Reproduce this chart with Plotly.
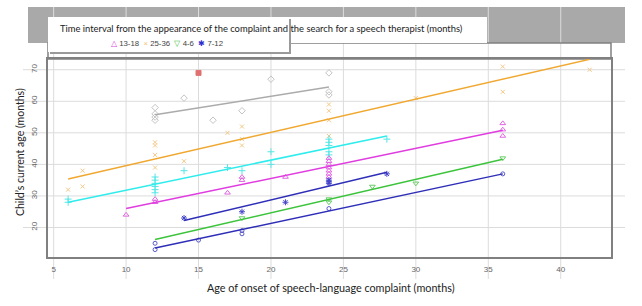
import plotly.graph_objects as go

# ---------------- data ----------------
x_ticks = [5, 10, 15, 20, 25, 30, 35, 40]
y_ticks = [20, 30, 40, 50, 60, 70]

gray_x = [12, 12, 12, 12, 14, 16, 18, 20, 24, 24, 24]
gray_y = [58, 56, 55, 54, 61, 54, 57, 67, 69, 63, 62]
gray_fit_x = [12, 24]
gray_fit_y = [55.7, 64.5]

g2536_x = [6, 7, 7, 12, 12, 12, 12, 14, 17, 18, 18, 18, 24, 24, 24, 24, 30, 36, 36, 42]
g2536_y = [32, 38, 33, 47, 46, 43, 39, 41, 50, 52, 48, 46, 59, 57, 54, 49, 61, 71, 63, 70]
g2536_fit_x = [6, 42]
g2536_fit_y = [35.4, 73.3]

cyan_x = [6, 6, 12, 12, 12, 12, 12, 12, 14, 17, 18, 20, 20, 24, 24, 24, 24, 24, 28]
cyan_y = [29, 28, 36, 35, 34, 33, 32, 31, 38, 39, 38, 44, 40, 48, 47, 46, 44, 43, 48]
cyan_fit_x = [6, 28]
cyan_fit_y = [28, 49]

g1318_x = [10, 12, 12, 17, 18, 18, 21, 24, 24, 24, 24, 24, 24, 24, 36, 36, 36]
g1318_y = [24, 29, 28, 31, 36, 35, 36, 42, 41, 40, 39, 38, 37, 36, 53, 51, 49]
g1318_fit_x = [10, 36]
g1318_fit_y = [26, 50.8]

g712_x = [14, 18, 21, 24, 24, 24, 28]
g712_y = [23, 25, 28, 35, 34.5, 34, 37]
g712_fit_x = [14, 28]
g712_fit_y = [22.2, 37.5]

g46_x = [18, 24, 24, 27, 30, 36]
g46_y = [23, 29, 28, 33, 34, 42]
g46_fit_x = [12, 36]
g46_fit_y = [16.2, 41.6]

circ_x = [12, 12, 15, 18, 18, 24, 36]
circ_y = [15, 13, 16, 19, 18, 26, 37]
circ_fit_x = [12, 36]
circ_fit_y = [13.5, 37]

red_x = [15]
red_y = [69]

legend_labels = ["13-18", "25-36", "4-6", "7-12"]
legend_title = "Time interval from the appearance of the complaint and the search for a speech therapist (months)"
x_title = "Age of onset of speech-language complaint (months)"
y_title = "Child\u2019s current age (months)"

# ---------------- layout geometry ----------------
W, H = 642, 306
L, R, T, B = 48, 31, 59, 49
X_RANGE = [4.61, 43.47]
Y_RANGE = [10.65, 73.4]
PW, PH = W - L - R, H - T - B


def px_x(px):
    return (px - L) / PW


def px_y(py):
    return (H - B - py) / PH


def dx(v):
    return (v - X_RANGE[0]) / (X_RANGE[1] - X_RANGE[0])


def dy(v):
    return (v - Y_RANGE[0]) / (Y_RANGE[1] - Y_RANGE[0])


fig = go.Figure()


def add_group(xs, ys, fx, fy, line_col, mk_col, symbol, size=5, mlw=1):
    fig.add_trace(go.Scatter(x=xs, y=ys, mode="markers", showlegend=False,
                             marker=dict(symbol=symbol, size=size, color=mk_col,
                                         line=dict(color=mk_col, width=mlw))))
    if fx is not None:
        fig.add_trace(go.Scatter(x=fx, y=fy, mode="lines", showlegend=False,
                                 line=dict(color=line_col, width=1.5)))


add_group(gray_x, gray_y, gray_fit_x, gray_fit_y, "#ABABAB", "#C4C4C4", "diamond-open", 5)
add_group(g2536_x, g2536_y, g2536_fit_x, g2536_fit_y, "#F0A830", "#F2C887", "x-thin-open", 4)
add_group(cyan_x, cyan_y, cyan_fit_x, cyan_fit_y, "#30ECEC", "#55E6E6", "cross-thin-open", 5)
add_group(g1318_x, g1318_y, g1318_fit_x, g1318_fit_y, "#E03CE0", "#E266E2", "triangle-up-open", 5)
add_group(g46_x, g46_y, g46_fit_x, g46_fit_y, "#3CC43C", "#66CC66", "triangle-down-open", 5)
add_group(g712_x, g712_y, g712_fit_x, g712_fit_y, "#2E2EB8", "#4545CC", "asterisk-open", 5)
add_group(circ_x, circ_y, circ_fit_x, circ_fit_y, "#2E2EB8", "#5A5ACC", "circle-open", 4)
add_group(red_x, red_y, None, None, None, "#E07070", "square", 5)

shapes = []
# grey header band
shapes.append(dict(type="rect", xref="paper", yref="paper", layer="below",
                   x0=px_x(28), x1=px_x(625), y0=px_y(43), y1=px_y(7),
                   fillcolor="#A9A9A9", line=dict(width=0)))
# grid lines (extend beyond panel like the reference)
for v in x_ticks:
    shapes.append(dict(type="line", xref="paper", yref="paper", layer="below",
                       x0=dx(v), x1=dx(v), y0=px_y(279), y1=px_y(7),
                       line=dict(color="#DCDCDC", width=1)))
for v in y_ticks:
    shapes.append(dict(type="line", xref="paper", yref="paper", layer="below",
                       x0=px_x(23), x1=px_x(625), y0=dy(v), y1=dy(v),
                       line=dict(color="#DCDCDC", width=1)))
# frame upper extension
shapes.append(dict(type="rect", xref="paper", yref="paper", layer="below",
                   x0=px_x(48), x1=px_x(611), y0=px_y(59), y1=px_y(43),
                   fillcolor="rgba(0,0,0,0)", line=dict(color="#808080", width=1.5)))
# title white background
shapes.append(dict(type="rect", xref="paper", yref="paper", layer="below",
                   x0=px_x(48), x1=px_x(487), y0=px_y(43), y1=px_y(17),
                   fillcolor="white", line=dict(width=0)))
# legend box shadow + box
shapes.append(dict(type="rect", xref="paper", yref="paper", layer="below",
                   x0=px_x(50), x1=px_x(291), y0=px_y(54), y1=px_y(19),
                   fillcolor="#9A9A9A", line=dict(width=0)))
shapes.append(dict(type="rect", xref="paper", yref="paper", layer="below",
                   x0=px_x(48), x1=px_x(289), y0=px_y(52), y1=px_y(17),
                   fillcolor="white", line=dict(width=0)))

sym = ["\u25b3", "\u00d7", "\u25bd", "\u2731"]
cols = ["#E040E0", "#F0C070", "#40C040", "#3030D0"]
leg_txt = "  ".join(f'<span style="color:{c}">{s}</span> {t}' for s, c, t in zip(sym, cols, legend_labels))

annotations = [
    dict(text=legend_title, xref="paper", yref="paper", x=px_x(58), y=px_y(29),
         xanchor="left", yanchor="middle", showarrow=False,
         font=dict(family="Lato", size=9.4, color="#222222")),
    dict(text=leg_txt, xref="paper", yref="paper", x=px_x(167), y=px_y(43.5),
         xanchor="center", yanchor="middle", showarrow=False,
         font=dict(family="Liberation Sans", size=7.8, color="#444444")),
    dict(text=x_title, xref="paper", yref="paper", x=px_x(331), y=px_y(287),
         xanchor="center", yanchor="middle", showarrow=False,
         font=dict(family="Lato", size=10.8, color="#222222")),
    dict(text=y_title, xref="paper", yref="paper", x=px_x(20), y=px_y(152),
         xanchor="center", yanchor="middle", showarrow=False, textangle=-90,
         font=dict(family="Lato", size=10.5, color="#222222")),
]

fig.update_layout(
    width=W, height=H, margin=dict(l=L, r=R, t=T, b=B, pad=0),
    paper_bgcolor="white", plot_bgcolor="rgba(0,0,0,0)",
    showlegend=False, shapes=shapes, annotations=annotations,
    xaxis=dict(range=X_RANGE, tickvals=x_ticks, ticktext=[str(v) for v in x_ticks],
               showgrid=False, zeroline=False, showline=True, mirror=True,
               linecolor="#808080", linewidth=1.5, ticks="outside", ticklen=4,
               tickcolor="rgba(0,0,0,0)", automargin=False,
               tickfont=dict(family="Liberation Sans", size=8, color="#666666")),
    yaxis=dict(range=Y_RANGE, tickvals=y_ticks, ticktext=[str(v) for v in y_ticks],
               showgrid=False, zeroline=False, showline=True, mirror=True,
               linecolor="#808080", linewidth=1.5, ticks="outside", ticklen=6,
               tickcolor="rgba(0,0,0,0)", tickangle=-90, automargin=False,
               tickfont=dict(family="Liberation Sans", size=8, color="#666666")),
)

fig.write_html("out.html", config={"displayModeBar": False},
               post_script="document.body.style.margin='0px';")
